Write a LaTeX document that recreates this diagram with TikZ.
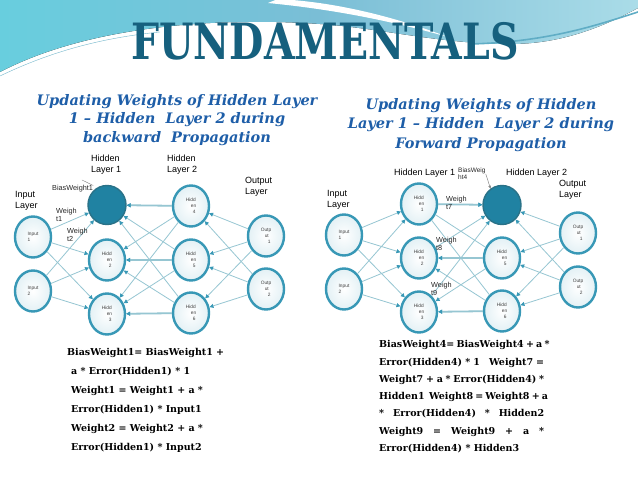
\documentclass[tikz,border=0pt]{standalone}
\usepackage{fontspec}
\setmainfont{DejaVu Serif}
\newfontfamily\lblfont{Liberation Sans}
\usetikzlibrary{arrows.meta,shapes.geometric}
\definecolor{TitleTeal}{RGB}{22,96,126}
\definecolor{SubBlue}{RGB}{30,94,168}
\definecolor{RingTeal}{RGB}{56,152,182}
\definecolor{EdgeTeal}{RGB}{150,198,210}
\definecolor{BiasFill}{RGB}{32,130,162}
\definecolor{WaveBlue}{RGB}{122,190,214}
\definecolor{WaveCyan}{RGB}{104,206,222}
\definecolor{WaveAqua}{RGB}{170,220,232}
\newcommand{\hid}[1]{Hidd\\\hspace*{5pt}en\\\hspace*{7pt}#1}
\newcommand{\outp}[1]{Outp\\\hspace*{4pt}ut\\\hspace*{7pt}#1}

\begin{document}
\begin{tikzpicture}[x=1pt,y=-1pt,
  neuron/.style={ellipse,draw=RingTeal,line width=2.4pt,inner color=white,outer color=RingTeal!14,minimum width=36pt,minimum height=41pt,inner sep=0pt,font=\lblfont\fontsize{4.8}{5.8}\selectfont,align=left,text=black!75},
  biasneuron/.style={ellipse,draw=RingTeal!75!black,line width=1.4pt,fill=BiasFill,minimum width=38pt,minimum height=39pt},
  edge/.style={draw=EdgeTeal,line width=.8pt},
  fwd/.style={edge,-{Triangle[length=4pt,width=4pt,color=RingTeal]}},
  heavy/.style={line width=1.8pt},
  lbl/.style={font=\lblfont\fontsize{9}{11}\selectfont,align=left,inner sep=0pt,anchor=base west},
  wlbl/.style={font=\lblfont\fontsize{7.3}{8.3}\selectfont,align=left,inner sep=0pt,anchor=base west,text=black!85},
  formula/.style={font=\bfseries\fontsize{9.5}{11}\selectfont,anchor=base west,inner sep=0pt},
  subtitle/.style={font=\bfseries\itshape\fontsize{14.5}{18.5}\selectfont,text=SubBlue,align=center,inner sep=0pt}]
\useasboundingbox (0,0) rectangle (638,478);
\fill[white] (0,0) rectangle (638,478);
% wave at the top
\fill[left color=WaveCyan,right color=WaveAqua,middle color=WaveBlue] (0,0) -- (638,0) -- (638,8) .. controls (590,34) and (550,44) .. (510,44) .. controls (440,44) and (380,28) .. (320,24) .. controls (220,17) and (90,25) .. (0,72) -- cycle;
\fill[white] (278,-1) .. controls (335,2) and (392,16) .. (448,37) .. controls (388,20) and (330,9) .. (268,3) -- cycle;
\draw[RingTeal!80,line width=1.6pt] (470,44) .. controls (550,42) and (600,24) .. (638,12);
\draw[RingTeal!70,line width=.4pt] (0,76) .. controls (50,52) and (100,38) .. (160,32);

\node[font=\bfseries\fontsize{50}{50}\selectfont,text=TitleTeal,xscale=.79,anchor=base,inner sep=0pt] (title) at (325,60) {FUNDAMENTALS};
\node[subtitle] (lsub) at (177,120) {Updating Weights of Hidden Layer\\1 -- Hidden\ \ Layer 2 during\\backward\ \ Propagation};
\node[subtitle,font=\bfseries\itshape\fontsize{14.5}{19.5}\selectfont] (rsub) at (481,125) {Updating Weights of Hidden\\Layer 1 -- Hidden\ \ Layer 2 during\\Forward Propagation};

% left network: backward
\foreach \n/\x/\y/\t in {Li1/33/237/{Input\\1},Li2/33/291/{Input\\2},Lh2/107/260/{\hid{2}},Lh3/107/314/{\hid{3}},Lh4/191/206/{\hid{4}},Lh5/191/260/{\hid{5}},Lh6/191/313/{\hid{6}},Lo1/266/236/{\outp{1}},Lo2/266/289/{\outp{2}}}{\node[neuron] (\n) at (\x,\y) {\t};}
\node[biasneuron] (Lh1) at (107,205) {};
\foreach \a in {Li1,Li2}{\foreach \b in {Lh1,Lh2,Lh3}{\draw[fwd] (\a) -- (\b);}}
\foreach \a in {Lh4,Lh5,Lh6}{\foreach \b in {Lh1,Lh2,Lh3}{\draw[fwd] (\a) -- (\b);}}
\foreach \a/\b in {Lh4/Lh1,Lh5/Lh2,Lh6/Lh3}{\draw[fwd,heavy] (\a) -- (\b);}
\foreach \a in {Lo1,Lo2}{\foreach \b in {Lh4,Lh5,Lh6}{\draw[fwd] (\a) -- (\b);}}
\node[lbl] (LhL1) at (91,173) {Hidden\\Layer 1};
\node[lbl] (LhL2) at (167,173) {Hidden\\Layer 2};
\node[lbl] (LoL) at (245,195) {Output\\Layer};
\node[lbl] (LiL) at (15,209) {Input\\Layer};
\node[wlbl] (Lbias) at (52,191) {BiasWeight1};
\coordinate (Lbtail) at (82,180);
\draw[black!50,line width=.4pt] (Lbtail) -- (Lbias.north east);
\node[wlbl] (Lw1) at (56,222) {Weigh\\t1};
\node[wlbl] (Lw2) at (67,242) {Weigh\\t2};

% right network: forward
\foreach \n/\x/\y/\t in {Ri1/344/235/{Input\\1},Ri2/344/289/{Input\\2},Rh1/419/204/{\hid{1}},Rh2/419/258/{\hid{2}},Rh3/419/312/{\hid{3}},Rh5/502/258/{\hid{5}},Rh6/502/311/{\hid{6}},Ro1/578/233/{\outp{1}},Ro2/578/287/{\outp{2}}}{\node[neuron] (\n) at (\x,\y) {\t};}
\node[biasneuron] (Rh4) at (502,205) {};
\foreach \a in {Ri1,Ri2}{\foreach \b in {Rh1,Rh2,Rh3}{\draw[fwd] (\a) -- (\b);}}
\foreach \a in {Rh1,Rh2,Rh3}{\draw[fwd] (\a) -- (Rh4);}
\draw[fwd,heavy] (Rh1) -- (Rh4);
\foreach \a in {Rh5,Rh6}{\draw[edge] (\a) -- (Rh1);\foreach \b in {Rh2,Rh3}{\draw[fwd] (\a) -- (\b);}}
\foreach \a/\b in {Rh5/Rh2,Rh6/Rh3}{\draw[fwd,heavy] (\a) -- (\b);}
\foreach \a in {Ro1,Ro2}{\foreach \b in {Rh4,Rh5,Rh6}{\draw[fwd] (\a) -- (\b);}}
\node[lbl] (RiL) at (327,208) {Input\\Layer};
\node[lbl] (RhL1) at (394,176) {Hidden Layer 1};
\node[lbl] (RhL2) at (506,176) {Hidden Layer 2};
\node[lbl] (RoL) at (559,198) {Output\\Layer};
\node[wlbl,font=\lblfont\fontsize{6.5}{7.5}\selectfont] (Rbias) at (458,180) {BiasWeig\\ht4};
\draw[black!55,line width=.4pt,-{Stealth[length=3pt,width=2.5pt]}] (Rbias.east) -- (Rh4.125);
\node[wlbl] (Rw7) at (446,210) {Weigh\\t7};
\node[wlbl] (Rw8) at (436,251) {Weigh\\t8};
\node[wlbl] (Rw9) at (431,296) {Weigh\\t9};

% update rules
\foreach \yy/\xx/\t [count=\k] in {356/67/BiasWeight1= BiasWeight1 +,375/71/a * Error(Hidden1) * 1,394/71/Weight1 = Weight1 + a *,413/71/Error(Hidden1) * Input1,432/71/Weight2 = Weight2 + a *,451/71/Error(Hidden1) * Input2}{\node[formula] (lf\k) at (\xx,\yy) {\t};}
\foreach \yy/\t [count=\k] in {348/BiasWeight4= BiasWeight4 + a *,366/Error(Hidden4) * 1 \ \ Weight7 =,383/Weight7 + a * Error(Hidden4) *,400/Hidden1 \ Weight8 = Weight8 + a,417/* Error(Hidden4) * Hidden2,435/Weight9 = Weight9 + a *}{\node[formula] (rf\k) at (379,\yy) {\makebox[165pt][s]{\t}};}
\node[formula] (rf7) at (379,452) {Error(Hidden4) * Hidden3};
\end{tikzpicture}
\end{document}
